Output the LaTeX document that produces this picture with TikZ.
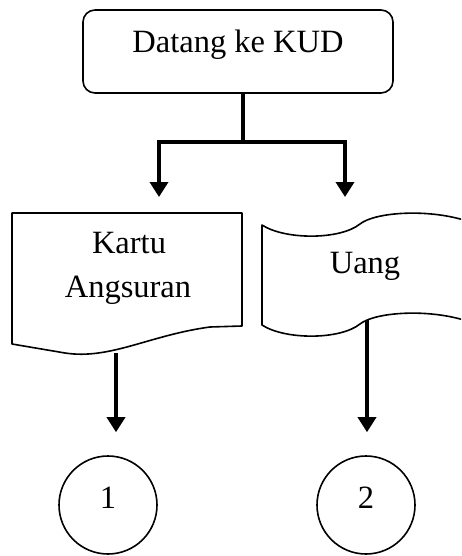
\documentclass[tikz,border=0pt]{standalone}
\usepackage{fontspec}
\setmainfont{Liberation Serif}
\usetikzlibrary{arrows.meta,calc}
\tikzset{
  shapeline/.style={draw=black, line width=1.6pt, line join=round},
  procbox/.style={shapeline, rectangle, rounded corners=12pt, minimum width=310pt, minimum height=83pt, inner sep=0pt},
  conn/.style={draw=black, line width=3.5pt, -{Triangle[width=18pt,length=15pt]}},
  plain/.style={draw=black, line width=3.5pt},
  connector/.style={shapeline, circle, minimum size=98pt, inner sep=0pt},
  txt/.style={font=\fontsize{32.5}{44}\selectfont, inner sep=0pt, anchor=base, align=center}
}
\begin{document}
\begin{tikzpicture}[x=1pt,y=-1pt]
\useasboundingbox (0,0) rectangle (461,556);
% top process box
\node[procbox] (kud) at (238,51.5) {};
\node[txt] (kudtxt) at (238,53) {Datang ke KUD};
% document shape
\draw[shapeline] (12,213) -- (242,213) -- (242,326) -- (210,327)
  .. controls (150,335) and (110,360) .. (65,353) -- (12,344) -- cycle;
\coordinate (docin) at (116,213);
\coordinate (docout) at (116,353);
\node[txt] (kartu) at (129,253) {Kartu};
\node[txt] (angsuran) at (128,297) {Angsuran};
% flag (uang) shape
\begin{scope}
\clip (0,0) rectangle (461,556);
\draw[shapeline] (470,222) .. controls (430,208) and (375,212) .. (360,224)
  .. controls (340,240) and (285,240) .. (262,225) -- (262,325)
  .. controls (285,340) and (340,340) .. (360,324)
  .. controls (375,312) and (430,308) .. (470,322);
\end{scope}
\coordinate (uangin) at (345,225);
\coordinate (uangout) at (367,320);
\node[txt] (uang) at (365,273) {Uang};
% connectors
\node[connector] (c1) at (108,505) {};
\node[txt] (n1) at (108,508) {1};
\node[connector] (c2) at (366,505) {};
\node[txt] (n2) at (366,508) {2};
\coordinate (split) at (243,142);
\coordinate (sl) at (159,142);
\coordinate (sr) at (345,142);
\coordinate (tl) at (159,197);
\coordinate (tr) at (345,197);
\draw[plain] (kud.south -| split) -- (split);
\draw[plain, line cap=rect] (sl) -- (sr);
\draw[conn] (sl) -- (tl);
\draw[conn] (sr) -- (tr);
\draw[conn] (docout) -- ($(c1.north)+(8,-23)$);
\draw[conn] (uangout) -- ($(c2.north)+(1,-23)$);
\end{tikzpicture}
\end{document}
